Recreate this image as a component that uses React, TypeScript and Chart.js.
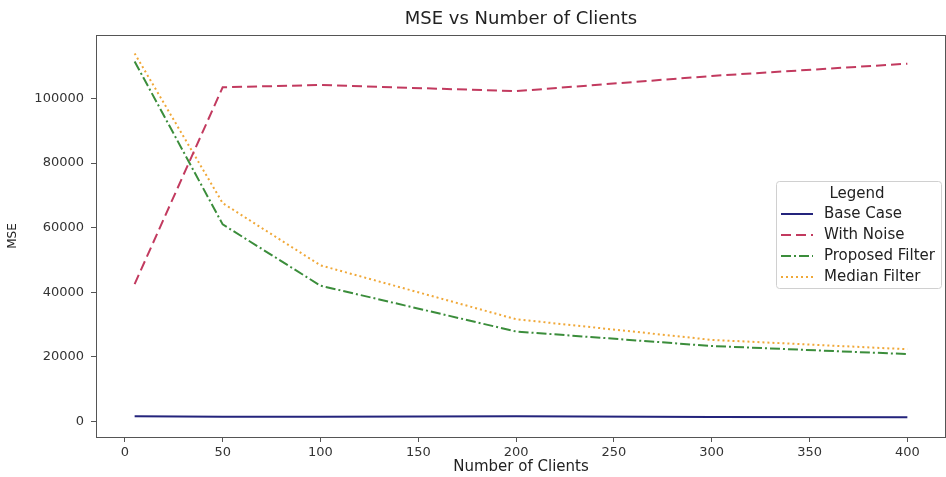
import React, { useEffect, useRef } from "react";
import { Chart, registerables } from "chart.js";

Chart.register(...registerables);

const xValues = [5, 50, 100, 200, 300, 400];
const baseCase = [1500, 1400, 1400, 1500, 1300, 1200];
const withNoise = [42500, 103500, 104200, 102300, 107000, 110800];
const proposedFilter = [111500, 61000, 42000, 27800, 23300, 20800];
const medianFilter = [114000, 67600, 48300, 31600, 25200, 22300];

const xTicks = [0, 50, 100, 150, 200, 250, 300, 350, 400];
const yTicks = [0, 20000, 40000, 60000, 80000, 100000];

const seriesNames = ["Base Case", "With Noise", "Proposed Filter", "Median Filter"];
const seriesColors = ["#24247c", "#c23a5f", "#3b8d3b", "#f0a838"];
const seriesDashes: number[][] = [[], [10, 5], [10, 3, 2, 3], [2, 3]];

const FONT = "'DejaVu Sans', sans-serif";

const framePlugin = {
  id: "frame",
  afterDatasetsDraw(chart: any) {
    const { ctx, chartArea } = chart;
    ctx.save();
    ctx.strokeStyle = "#555";
    ctx.lineWidth = 1;
    ctx.strokeRect(chartArea.left + 0.5, chartArea.top + 0.5, chartArea.right - chartArea.left - 1, chartArea.bottom - chartArea.top);
    ctx.restore();
  },
};

const legendPlugin = {
  id: "customLegend",
  afterDraw(chart: any) {
    const { ctx, chartArea } = chart;
    const bx = chartArea.right - 170;
    const by = 181;
    const bw = 165;
    const bh = 107;
    ctx.save();
    ctx.fillStyle = "rgba(255,255,255,0.85)";
    ctx.strokeStyle = "#d0d0d0";
    ctx.lineWidth = 1;
    ctx.beginPath();
    (ctx as any).roundRect(bx + 0.5, by + 0.5, bw, bh, 3);
    ctx.fill();
    ctx.stroke();
    ctx.font = `15px ${FONT}`;
    ctx.fillStyle = "#222";
    ctx.textBaseline = "middle";
    ctx.textAlign = "center";
    ctx.fillText("Legend", bx + 81, by + 13);
    ctx.textAlign = "left";
    chart.data.datasets.forEach((ds: any, i: number) => {
      const y = by + 33 + i * 21;
      ctx.strokeStyle = ds.borderColor;
      ctx.lineWidth = 2;
      ctx.setLineDash(ds.borderDash || []);
      ctx.beginPath();
      ctx.moveTo(bx + 5, y);
      ctx.lineTo(bx + 37, y);
      ctx.stroke();
      ctx.setLineDash([]);
      ctx.fillStyle = "#222";
      ctx.fillText(ds.label, bx + 48, y);
    });
    ctx.restore();
  },
};

export default function App() {
  const ref = useRef<HTMLCanvasElement>(null);
  useEffect(() => {
    if (!ref.current) return;
    const allSeries = [baseCase, withNoise, proposedFilter, medianFilter];
    const chart = new Chart(ref.current, {
      type: "line",
      data: {
        datasets: allSeries.map((vals, i) => ({
          label: seriesNames[i],
          data: xValues.map((x, j) => ({ x, y: vals[j] })),
          borderColor: seriesColors[i],
          backgroundColor: seriesColors[i],
          borderDash: seriesDashes[i],
          borderWidth: 2,
          pointRadius: 0,
          tension: 0,
          fill: false,
        })),
      },
      options: {
        animation: false,
        responsive: false,
        devicePixelRatio: 1,
        layout: { padding: { left: 0, right: 0, top: 0, bottom: 0 } },
        plugins: {
          legend: { display: false },
          tooltip: { enabled: false },
          title: {
            display: true,
            fullSize: false,
            text: "MSE vs Number of Clients",
            color: "#222",
            font: { family: FONT, size: 18, weight: "normal" as any, lineHeight: 1.2 },
            padding: { top: 9, bottom: 4.4 },
          },
        },
        scales: {
          x: {
            type: "linear",
            min: -14.75,
            max: 419.75,
            afterBuildTicks: (axis: any) => {
              axis.ticks = xTicks.map((v) => ({ value: v }));
            },
            afterFit: (axis: any) => {
              axis.height = 40;
            },
            grid: { display: true, drawOnChartArea: false, drawTicks: true, tickLength: 5, color: "#555" },
            border: { display: true, color: "#555", width: 1 },
            ticks: { color: "#333", font: { family: FONT, size: 13 }, padding: 3, maxRotation: 0, autoSkip: false },
            title: {
              display: true,
              text: "Number of Clients",
              color: "#222",
              font: { family: FONT, size: 15 },
              padding: { top: 0, bottom: 1 },
            },
          },
          y: {
            type: "linear",
            min: -4900,
            max: 119700,
            afterBuildTicks: (axis: any) => {
              axis.ticks = yTicks.map((v) => ({ value: v }));
            },
            afterFit: (axis: any) => {
              axis.width = 96;
            },
            grid: { display: true, drawOnChartArea: false, drawTicks: true, tickLength: 5, color: "#555" },
            border: { display: true, color: "#555", width: 1 },
            ticks: {
              color: "#333",
              font: { family: FONT, size: 13 },
              padding: 7,
              callback: (v: any) => String(v),
            },
            title: {
              display: true,
              text: "MSE",
              color: "#222",
              font: { family: FONT, size: 12 },
              padding: { top: 6, bottom: 0 },
            },
          },
        },
      },
      plugins: [framePlugin, legendPlugin],
    });
    return () => chart.destroy();
  }, []);
  return (
    <div style={{ position: "absolute", left: 0, top: 0, width: 946, height: 477, background: "#fff" }}>
      <canvas ref={ref} width={946} height={477} style={{ display: "block" }} />
    </div>
  );
}
